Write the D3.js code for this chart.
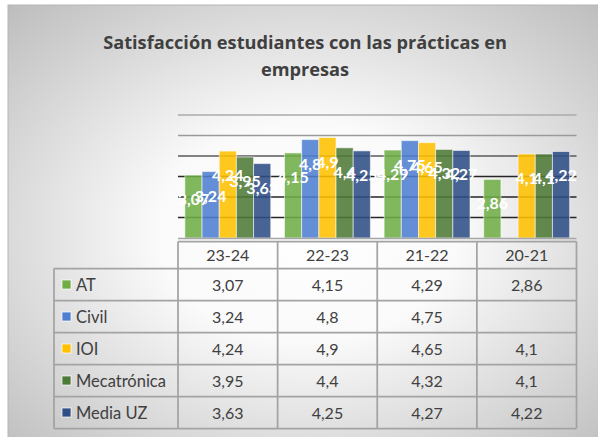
<!DOCTYPE html>
<html>
<head>
<meta charset="utf-8">
<script src="https://cdn.jsdelivr.net/npm/d3@7"></script>
<style>
  body { margin: 0; background: #fff; }
  svg { display: block; font-family: Lato, "Open Sans", sans-serif; }
</style>
</head>
<body>
<svg id="chart" width="598" height="437"></svg>
<script>
// data
const categories = ['23-24', '22-23', '21-22', '20-21'];
const seriesNames = ['AT', 'Civil', 'IOI', 'Mecatrónica', 'Media UZ'];
const atValues = [3.07, 4.15, 4.29, 2.86];
const civilValues = [3.24, 4.8, 4.75, null];
const ioiValues = [4.24, 4.9, 4.65, 4.1];
const mecaValues = [3.95, 4.4, 4.32, 4.1];
const mediaValues = [3.63, 4.25, 4.27, 4.22];
const yTicks = [1, 2, 3, 4, 5, 6];

const seriesValues = [atValues, civilValues, ioiValues, mecaValues, mediaValues];
const colors = ['#70ad47', '#4f7fd0', '#ffc000', '#4e7a38', '#2f4f86'];

const W = 598, H = 437;
const plotLeft = 178, plotRight = 576.5;
const baseY = 238, topY = 115;
const fmt = v => String(v).replace('.', ',');

const svg = d3.select('#chart');
const defs = svg.append('defs');

// radial grey background like the office chart style
const bg = defs.append('radialGradient')
    .attr('id', 'bg')
    .attr('cx', '50%').attr('cy', '52%').attr('r', '72%');
bg.append('stop').attr('offset', '0%').attr('stop-color', '#ffffff');
bg.append('stop').attr('offset', '35%').attr('stop-color', '#fafafa');
bg.append('stop').attr('offset', '100%').attr('stop-color', '#bdbdbd');

svg.append('rect')
    .attr('x', 8).attr('y', 5)
    .attr('width', W).attr('height', H)
    .attr('fill', 'url(#bg)')
    .attr('stroke', '#b5b5b5')
    .attr('stroke-width', 1);

// title
const title = svg.append('text')
    .attr('text-anchor', 'middle')
    .attr('fill', '#404040')
    .attr('font-family', '"Open Sans", sans-serif')
    .attr('font-size', 18.2)
    .attr('font-weight', 'bold');
title.append('tspan').attr('x', 305).attr('y', 49)
    .text('Satisfacción estudiantes con las prácticas en');
title.append('tspan').attr('x', 305).attr('y', 76)
    .text('empresas');

// scales
const x0 = d3.scaleBand().domain(categories).range([plotLeft, plotRight]);
const x1 = d3.scaleBand().domain(seriesNames)
    .range([0, x0.bandwidth()])
    .paddingOuter(0.4);
const y = d3.scaleLinear().domain([0, 6]).range([baseY, topY]);

// gridlines, darker toward the bottom
const gridColor = d3.scaleLinear().domain([3, 4, 5, 6])
    .range(['#262626', '#5a5a5a', '#9a9a9a', '#ababab']).clamp(true);

svg.append('g')
    .selectAll('line')
    .data(yTicks)
    .join('line')
    .attr('x1', plotLeft).attr('x2', plotRight)
    .attr('y1', d => y(d)).attr('y2', d => y(d))
    .attr('stroke', d => gridColor(d))
    .attr('stroke-width', 1.5);

// bars
const rows = [];
seriesNames.forEach((s, i) => {
    categories.forEach((c, j) => {
        const v = seriesValues[i][j];
        if (v != null) rows.push({ s, c, v, i });
    });
});

svg.append('g')
    .selectAll('rect')
    .data(rows)
    .join('rect')
    .attr('x', d => x0(d.c) + x1(d.s))
    .attr('y', d => y(d.v))
    .attr('width', x1.bandwidth())
    .attr('height', d => baseY - y(d.v))
    .attr('fill', d => colors[d.i])
    .attr('fill-opacity', 0.88)
    .attr('stroke', 'rgba(255,255,255,0.55)')
    .attr('stroke-width', 1);

// data labels
svg.append('g')
    .selectAll('text')
    .data(rows)
    .join('text')
    .attr('x', d => x0(d.c) + x1(d.s) + x1.bandwidth() / 2)
    .attr('y', d => y(d.v) + 30)
    .attr('text-anchor', 'middle')
    .attr('fill', '#fff')
    .attr('font-size', 16)
    .attr('font-weight', 'bold')
    .text(d => fmt(d.v));

// axis line
svg.append('line')
    .attr('x1', plotLeft).attr('x2', plotRight)
    .attr('y1', baseY + 0.5).attr('y2', baseY + 0.5)
    .attr('stroke', '#a6a6a6').attr('stroke-width', 1.5);

// data table
const tableTop = 241.5, headH = 27, rowH = 32;
const labelLeft = 54;
const lineColor = '#a3a3a3';
const table = svg.append('g')
    .attr('stroke', lineColor)
    .attr('stroke-width', 1.75)
    .attr('fill', 'none');

const tableBottom = tableTop + headH + rowH * seriesNames.length;
// header row top
table.append('line')
    .attr('x1', plotLeft).attr('x2', plotRight)
    .attr('y1', tableTop).attr('y2', tableTop);
// row separators
d3.range(seriesNames.length + 1).forEach(k => {
    const yy = tableTop + headH + rowH * k;
    table.append('line')
        .attr('x1', labelLeft).attr('x2', plotRight)
        .attr('y1', yy).attr('y2', yy);
});
// vertical lines
table.append('line')
    .attr('x1', labelLeft).attr('x2', labelLeft)
    .attr('y1', tableTop + headH).attr('y2', tableBottom);
categories.concat(['end']).forEach((c, k) => {
    const xx = k < categories.length ? x0(c) : plotRight;
    table.append('line')
        .attr('x1', xx).attr('x2', xx)
        .attr('y1', tableTop).attr('y2', tableBottom);
});

// header texts
svg.append('g')
    .selectAll('text')
    .data(categories)
    .join('text')
    .attr('x', d => x0(d) + x0.bandwidth() / 2)
    .attr('y', tableTop + headH / 2 + 6)
    .attr('text-anchor', 'middle')
    .attr('fill', '#404040')
    .attr('font-size', 16)
    .text(d => d);

// legend keys and names
const legend = svg.append('g')
    .selectAll('g')
    .data(seriesNames)
    .join('g')
    .attr('transform', (d, i) =>
        `translate(0, ${tableTop + headH + rowH * i + rowH / 2})`);
legend.append('rect')
    .attr('x', 62).attr('y', -4.5)
    .attr('width', 9).attr('height', 9)
    .attr('fill', (d, i) => colors[i])
    .attr('stroke', 'rgba(255,255,255,0.7)')
    .attr('stroke-width', 1);
legend.append('text')
    .attr('x', 76).attr('y', 6)
    .attr('fill', '#404040')
    .attr('font-size', 16.5)
    .text(d => d);

// table values
svg.append('g')
    .selectAll('text')
    .data(rows)
    .join('text')
    .attr('x', d => x0(d.c) + x0.bandwidth() / 2)
    .attr('y', d => tableTop + headH + rowH * d.i + rowH / 2 + 6)
    .attr('text-anchor', 'middle')
    .attr('fill', '#404040')
    .attr('font-size', 16)
    .text(d => fmt(d.v));
</script>
</body>
</html>
